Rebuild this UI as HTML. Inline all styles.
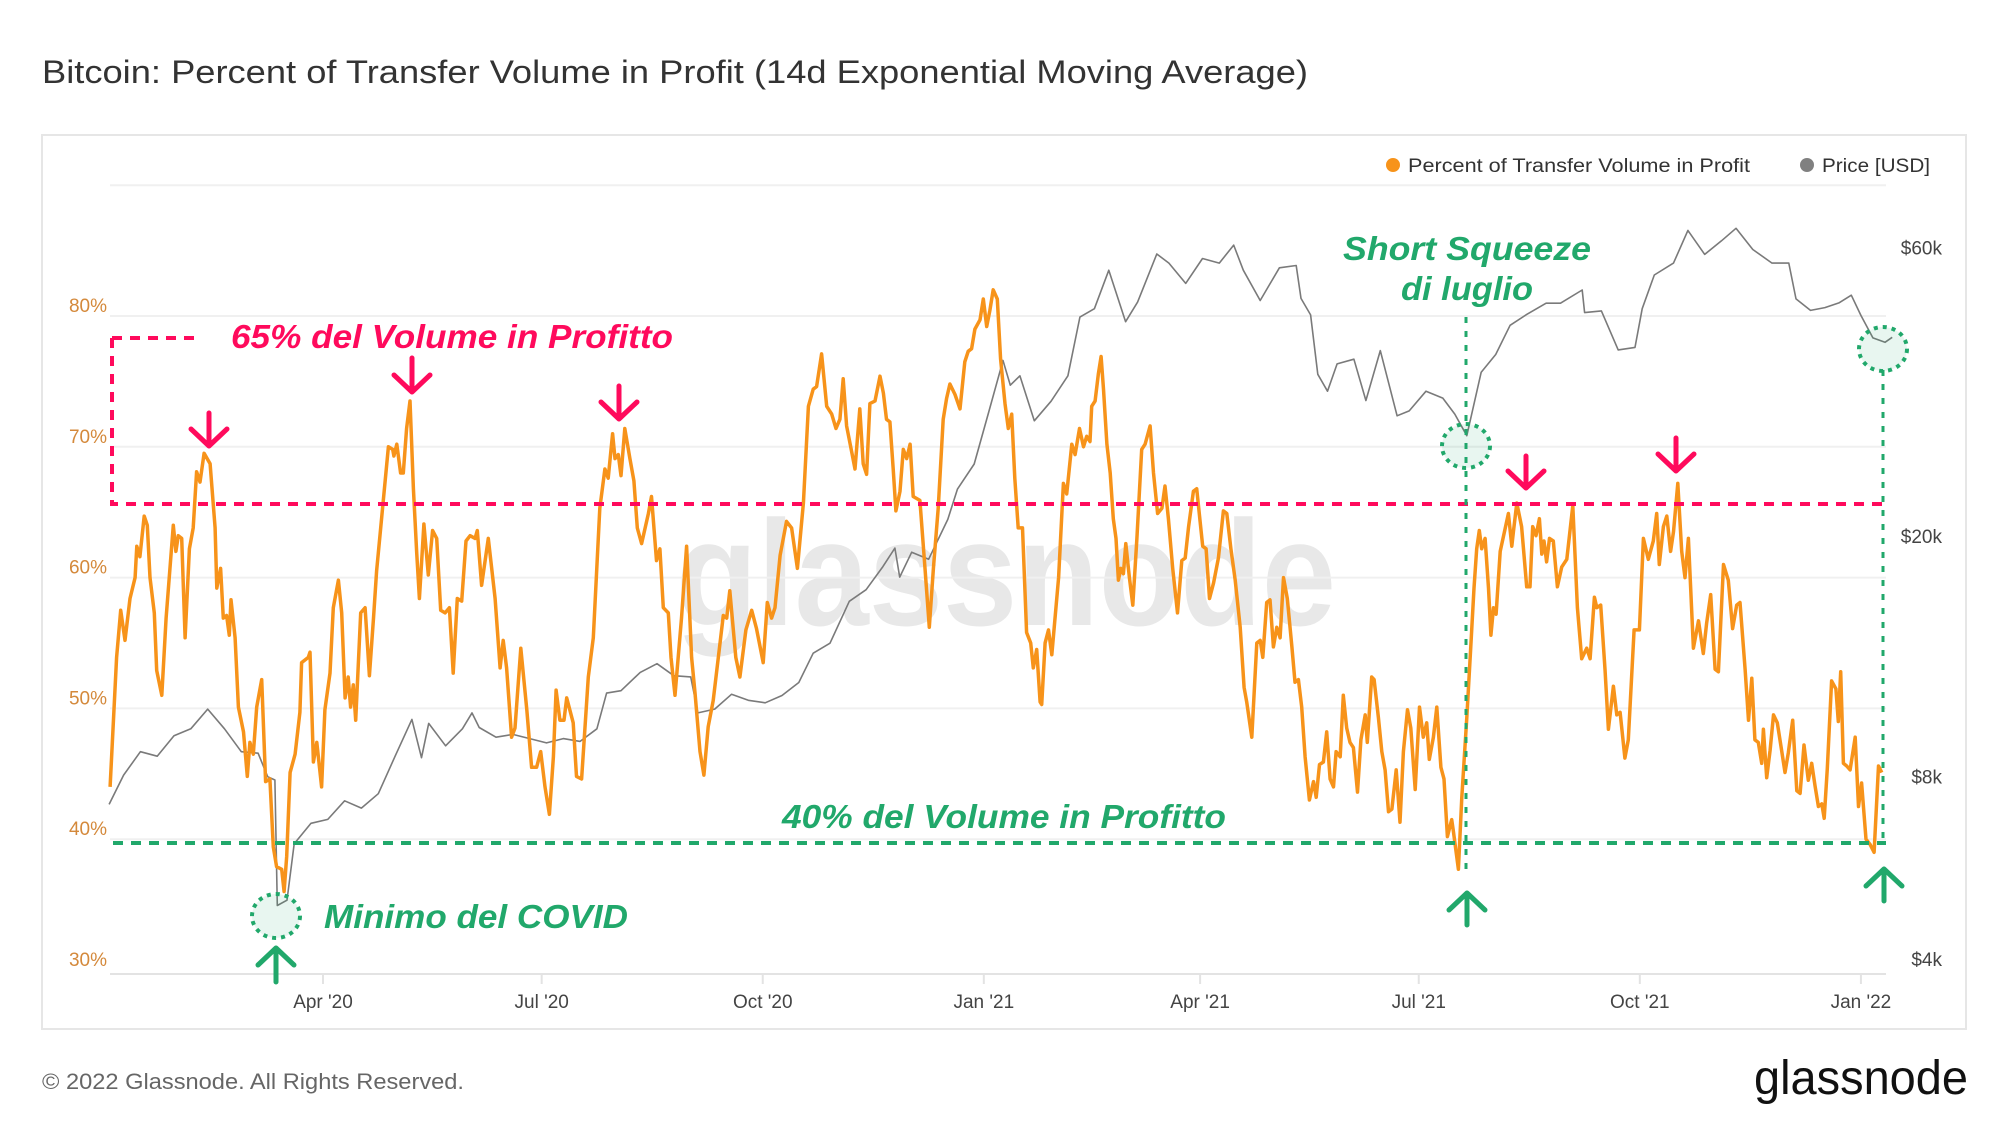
<!DOCTYPE html>
<html><head><meta charset="utf-8"><style>
html,body{margin:0;padding:0;background:#fff;}
svg{display:block;font-family:"Liberation Sans",sans-serif;}
</style></head><body>
<svg id="chart" width="2000" height="1126" viewBox="0 0 2000 1126" xmlns="http://www.w3.org/2000/svg">
<text x="42" y="83" font-size="32" fill="#333" textLength="1266" lengthAdjust="spacingAndGlyphs">Bitcoin: Percent of Transfer Volume in Profit (14d Exponential Moving Average)</text>
<rect x="42" y="135" width="1924" height="894" fill="#fff" stroke="#e6e6e6" stroke-width="2"/>
<text x="676" y="625" font-size="150" font-weight="bold" fill="#e8e8e8" textLength="660" lengthAdjust="spacingAndGlyphs">glassnode</text>
<g id="grid"></g>
<g id="yleft"></g>
<g id="yright"></g>
<g id="xaxis"></g>
<g id="series"></g>
<g id="annot"></g>
<g>
 <g><circle cx="1393" cy="165" r="7" fill="#f7931a"/><text x="1408" y="172" font-size="19" fill="#333" textLength="342" lengthAdjust="spacingAndGlyphs">Percent of Transfer Volume in Profit</text></g>
 <g><circle cx="1807" cy="165" r="7" fill="#808080"/><text x="1822" y="172" font-size="19" fill="#333" textLength="108" lengthAdjust="spacingAndGlyphs">Price [USD]</text></g>
</g>
<text x="42" y="1089" font-size="22" fill="#666" textLength="422" lengthAdjust="spacingAndGlyphs">© 2022 Glassnode. All Rights Reserved.</text>
<text x="1754" y="1094" font-size="48" fill="#111" textLength="214" lengthAdjust="spacingAndGlyphs">glassnode</text>
</svg>
<script>
// ---- data ----
const pctTicks = [80,70,60,50,40,30];
const gridPct = [90,80,70,60,50,40];
const priceTicks = [60000,20000,8000,4000];
const priceTickLabels = ["$60k","$20k","$8k","$4k"];
const xTickDates = ["2020-04-01","2020-07-01","2020-10-01","2021-01-01","2021-04-01","2021-07-01","2021-10-01","2022-01-01"];
const xTickLabels = ["Apr '20","Jul '20","Oct '20","Jan '21","Apr '21","Jul '21","Oct '21","Jan '22"];
// days since 2020-01-01 and percent values
const pctDays = [2.4,5.1,6.8,8.6,10.7,12.8,13.5,14.8,16.6,17.9,19,20.8,21.8,23.9,25.7,28.7,29.8,30.8,32.2,33.6,35.4,37,38.4,39.8,41.5,44,46.1,46.8,48.4,49.5,50.9,52,52.7,54.4,55.8,57.9,59.5,60.6,62,63.4,65.5,67.1,68.9,70.3,71.7,73.8,74.8,75.9,77.3,79.4,81.4,82.1,84.9,85.6,87,88.4,90.4,91.8,93.9,95.3,97.4,98.8,100.2,101.5,102.5,103.6,104.6,106.7,108.5,110.3,112,113.3,116.1,118.2,120,120.5,121.7,123.3,124.4,125.8,127.2,128.6,130,131.1,133,134.8,136.6,138.3,140,141.8,143.6,145.2,146.9,148.7,150.5,152.2,154.3,155.2,157,159.8,162.6,164.7,166,167.4,169.5,170.9,173.3,175.8,177.8,179.9,181.6,183.4,185.2,186.9,188,189.6,191.3,
192.4,195.1,196.5,198.6,201.4,203.5,206.2,208.3,209.7,211.5,212.5,213.9,215,216.6,218.7,220.4,221.8,223.6,226.4,227.7,229.8,231.2,232.6,234.7,235.8,237.5,240.2,242.3,244.4,245.8,247.9,249.5,251.3,253.4,257.6,259,260.3,262.8,264.5,267,269.4,271.4,274.2,275.9,277.7,279.1,281.2,283.9,286,288.4,290.9,293,295,296.4,298.5,300.6,302.7,304.5,306.1,307.5,308.9,310.6,312.4,314.4,315.8,317.2,318.6,320.7,322.8,324.2,325.5,326.9,328.3,329.4,331.1,332.5,333.9,335.3,336.6,339.4,341.5,343.3,345,347,349.1,350.5,351.9,354,356.1,358.1,359.5,360.9,362.3,364.4,365.8,367.2,368.5,369.9,371.6,373,374.8,376.2,377.6,378.9,380.3,382.1,383.8,385.5,386.6,388,389.4,
390.1,391.5,392.9,394.3,397.1,399.1,400.5,402.6,404,405.8,407.5,408.8,410.2,410.9,412.3,413.7,414.8,415.8,417.2,418.6,419.9,421,422,423,424.1,425.1,426.6,428,429.7,431.7,433.1,435.2,436.6,438.3,440.1,441.4,442.8,444.6,446.6,448.4,449.8,451.2,453.2,454.6,456,457.1,458.5,459.9,461.6,463.6,465.7,467.1,468.8,470.6,472.7,474.3,475.4,477.5,479.6,481,482.1,483.7,485.1,486.5,487.9,489.3,490.7,492.3,494.2,495.5,496.9,498.3,499.7,501.5,503.2,504.3,505.7,507.3,508.7,510.1,511.5,512.6,514.3,515.6,517,518.4,519.8,521.5,522.9,524.7,525.6,527.4,528.4,530.2,531.6,533,534.4,535.8,537.6,539.2,540.6,542.3,543.7,545.5,547.3,548.9,550.3,551.4,553.1,554.5,556.2,557.5,558.9,560.7,561.4,563.5,564.9,567,568.6,570,571.1,572.2,573.2,574.6,576,577,578.1,579.2,580.9,
582.9,584.3,585.7,586.4,587.8,589.8,591.9,593.3,594.4,595.8,597.2,598.2,599.1,600.2,601.4,603,604.7,606.5,608.6,611.1,613,614.8,616.9,618.3,620.1,621.1,622.7,624.5,625.9,628,629.4,630.8,632.8,634.2,636.6,638.8,640.5,642.5,644.6,646,647.1,648.8,650.2,651.8,653,654.8,656.4,657.8,659.2,661.3,663.4,665.4,666.8,668.5,670.3,671.7,673.8,675.8,677.6,679.3,680.7,682.8,684.2,685.6,686.9,688.3,689.7,690.4,691.8,693.2,694.6,696.2,698,699.4,700.8,702.6,704.3,705.7,707.3,709.1,710.5,711.9,713.3,714.7,715.7,717,718.8,720.6,721.6,722.6,723.7,725.1,726.5,728.6,730,731.3,733.1,734.8,736.5,738.3,739.7];
const pctValues = [44,53.9,57.5,55.2,58.4,60,62.4,61.6,64.7,64,60,57.3,52.9,51,56.9,64,62,63.2,63,55.4,62.2,63.8,68.1,67.3,69.5,68.7,63.8,59.2,60.7,56.9,57.1,55.6,58.3,55.4,50.1,48.2,44.8,47.4,46.5,50.1,52.2,44.4,44.6,39.4,37.9,37.7,36,38.7,45.1,46.5,49.7,53.5,53.9,54.3,45.9,47.4,44,49.9,52.7,57.7,59.8,57.3,50.8,52.4,50.1,51.8,49.1,57.3,57.7,52.5,56.9,60.5,65.9,70,69.8,69.3,70.2,68,68,71.4,73.5,66.8,61.9,58.4,64.1,60.2,63.6,63,57.5,57.3,57.7,52.7,58.4,58.2,62.8,63.2,63,63.6,59.4,63,58.4,53.1,55.2,53.1,47.8,48.5,54.6,49.9,45.5,45.5,46.7,44,41.9,46.3,51.4,49.1,49.1,
50.8,48.9,44.8,44.6,52.4,55.4,65.3,68.3,67.6,71,69.1,69.4,67.8,71.4,69.1,67.4,63.8,62.6,64.9,66.2,61.3,62.2,57.7,57.3,53.9,51,56.9,62.4,53.9,51.2,46.7,44.9,48.6,50.6,57.1,56.9,59,53.9,52.4,56,57.5,56.1,53.5,58.1,56.9,57.7,61.7,64.3,63.8,60.7,65.7,73.1,74.4,74.6,77.1,73.1,72.5,71.4,72.1,75.2,71.6,70,68.3,72.9,68.7,67.9,73.3,73.5,75.4,74.1,72.1,71.9,68.3,65.1,66.6,69.8,69.1,70.2,66.2,65.9,60.7,56.2,60.7,65.3,72.1,73.7,74.8,74,72.9,76.5,77.3,77.5,79,79.7,81.3,79.2,80.4,82,81.3,76.7,73.3,71.4,72.5,67.6,63.8,63.8,55.8,55,53.1,54.5,50.5,
50.3,55,56,54.1,60,67.2,66.4,70.2,69.4,71.4,70,70.8,70.4,73.1,73.5,75.6,76.9,74.4,70.2,68,64.5,63,59.8,60.7,60.3,62.6,60,57.9,63,69.8,70.2,71.6,68,64.9,65.3,67,64.5,60.7,57.3,61.3,61.5,63.9,66.6,66.8,64.3,62.4,62.2,58.4,59.6,61.5,65.1,64.9,62.2,59.8,56.2,51.6,50.5,47.8,55,55.2,53.9,58.1,58.3,54.7,56.2,55.4,60,58.4,54.7,52,52.2,50.1,46.3,43,44.4,43.2,45.7,45.9,48.2,44.6,44,46.7,46.3,51,48.5,47.4,47,43.6,47.6,49.5,47.4,52.4,52.2,49.3,46.7,45.3,42.1,42.3,45.3,41.3,46.7,49.9,48.5,43.8,50.1,47.8,48.9,46.1,47.8,50.1,45.5,44.6,40.2,41.5,40.6,37.7,43.2,49.3,54.6,59.2,62.2,63.6,62.2,63,59.2,55.6,57.7,57.2,62,
63.7,64.9,62.4,63.5,65.7,63.9,59.3,59.3,63.9,63.2,64.5,61.8,62.8,61.2,63,62.8,59.3,60.8,61.4,65.5,57.7,53.8,54.6,53.8,58.5,57.7,57.9,53,48.4,51.7,49.5,49.7,46.2,47.6,56,56,63,61.4,62.8,64.9,61,63.9,64.7,62,63.5,67.2,62,60,63,54.6,56.7,54.2,56.5,58.7,53,52.8,61,59.8,56.1,57.9,58.1,53,49.1,52.3,47.6,47.4,45.8,48.4,44.7,46.8,49.5,48.9,46.8,45.1,46.6,49.1,43.7,43.5,47.2,44.5,45.8,44.1,42.5,42.7,41.6,45.4,52.1,51.5,49,52.8,45.8,45.6,45.3,47.8,42.5,44.3,40,39.6,39,45.6,45.1];
const priceDates = ["2020-01-02","2020-01-08","2020-01-15","2020-01-22","2020-01-29","2020-02-05","2020-02-12","2020-02-19","2020-02-26","2020-03-04","2020-03-08","2020-03-11","2020-03-12","2020-03-16","2020-03-19","2020-03-26","2020-04-02","2020-04-09","2020-04-16","2020-04-23","2020-04-30","2020-05-07","2020-05-11","2020-05-14","2020-05-21","2020-05-28","2020-06-01","2020-06-04","2020-06-11","2020-06-18","2020-06-25","2020-07-02","2020-07-09","2020-07-16","2020-07-23","2020-07-27","2020-08-02","2020-08-10","2020-08-17","2020-08-24","2020-08-31","2020-09-03","2020-09-10","2020-09-17","2020-09-24","2020-10-01","2020-10-08","2020-10-15","2020-10-21","2020-10-28","2020-11-05","2020-11-12","2020-11-19","2020-11-24","2020-11-26","2020-12-01","2020-12-08","2020-12-16","2020-12-20","2020-12-27","2021-01-02","2021-01-08","2021-01-11","2021-01-15","2021-01-21","2021-01-28","2021-02-04","2021-02-09","2021-02-15","2021-02-21","2021-02-28","2021-03-05","2021-03-13","2021-03-18","2021-03-25","2021-04-01","2021-04-08","2021-04-14","2021-04-18","2021-04-25","2021-05-03","2021-05-10","2021-05-12","2021-05-16","2021-05-19","2021-05-23","2021-05-27","2021-06-03","2021-06-08","2021-06-14","2021-06-21","2021-06-26","2021-07-03","2021-07-10","2021-07-15","2021-07-20","2021-07-26","2021-08-01","2021-08-07","2021-08-14","2021-08-22","2021-08-28","2021-09-06","2021-09-07","2021-09-14","2021-09-21","2021-09-28","2021-10-01","2021-10-06","2021-10-14","2021-10-20","2021-10-27","2021-11-03","2021-11-09","2021-11-16","2021-11-24","2021-12-01","2021-12-04","2021-12-10","2021-12-16","2021-12-22","2021-12-27","2021-12-31","2022-01-05","2022-01-10","2022-01-13"];
const priceValues = [7200,8050,8800,8650,9350,9600,10350,9600,8800,8750,8000,7900,4900,5000,6200,6700,6800,7300,7100,7500,8650,9950,8600,9800,9000,9600,10200,9650,9300,9400,9250,9100,9250,9150,9600,11000,11100,11900,12300,11750,11700,10200,10350,10950,10700,10600,10900,11450,12800,13300,15600,16300,17800,19100,17100,18800,18300,21300,23900,26300,32000,39000,35500,36800,31000,33400,36800,46000,47500,55000,45200,48700,58500,56500,52300,57500,56500,60500,55000,49000,55500,56000,49400,46400,37000,34700,38500,39200,33500,40500,31600,32200,34700,33800,31800,29300,37300,39900,44600,46500,48500,48500,51000,46800,47100,40600,41000,47500,54000,56500,64000,58400,61500,64500,59500,56500,56500,49300,47200,47700,48600,50000,46300,42500,41800,42600];

// ---- scales ----
const DAY0 = Date.UTC(2020,0,1);
function dayOf(s){const p=s.split('-');return (Date.UTC(+p[0],+p[1]-1,+p[2])-DAY0)/86400000;}
function xScale(d){return 323 + (d-91)*2.403;}
function yPct(v){return 316 + (80-v)*13.08;}
function yPrice(p){return 536 - (Math.log10(p)-4.301)*605;}
const NS="http://www.w3.org/2000/svg";
function mk(tag,attrs,parent){const e=document.createElementNS(NS,tag);for(const k in attrs)e.setAttribute(k,attrs[k]);parent.appendChild(e);return e;}

// grid
const grid=document.getElementById('grid');
gridPct.forEach(v=>{
  const l=mk('line',{x1:110,x2:1886,y1:yPct(v),y2:yPct(v),stroke:'#f0f0f0','stroke-width':2},grid);
  
  
});
const base=mk('line',{x1:110,x2:1886,y1:yPct(30)+4,y2:yPct(30)+4,stroke:'#e3e3e3','stroke-width':2},grid);



// left axis
const yl=document.getElementById('yleft');
pctTicks.forEach(v=>{
  const t=mk('text',{x:107,y:yPct(v)-4,'text-anchor':'end','font-size':19,fill:'#d4893b'},yl);
  t.textContent=v+'%';
  
  
});
// right axis
const yr=document.getElementById('yright');
priceTicks.forEach((p,i)=>{
  const t=mk('text',{x:1942,y:yPrice(p)+7,'text-anchor':'end','font-size':19,fill:'#444'},yr);
  t.textContent=priceTickLabels[i];
  
  
});
// x axis
const xa=document.getElementById('xaxis');
xTickDates.forEach((s,i)=>{
  const x=xScale(dayOf(s));
  const tk=mk('line',{x1:x,x2:x,y1:yPct(30)+4,y2:yPct(30)+14,stroke:'#e3e3e3','stroke-width':2},xa);
  
  
  const t=mk('text',{x:x,y:1008,'text-anchor':'middle','font-size':19,fill:'#444'},xa);
  t.textContent=xTickLabels[i];
  
  
});

// series
const sg=document.getElementById('series');
let dp='';
priceDates.forEach((s,i)=>{dp+=(i?'L':'M')+xScale(dayOf(s)+1).toFixed(1)+' '+yPrice(priceValues[i]).toFixed(1);});
const pl=mk('path',{d:dp,fill:'none',stroke:'#7a7a7a','stroke-width':1.6,'stroke-linejoin':'round'},sg);


let dpct='';
pctDays.forEach((d,i)=>{dpct+=(i?'L':'M')+xScale(d).toFixed(1)+' '+yPct(pctValues[i]).toFixed(1);});
const ol=mk('path',{d:dpct,fill:'none',stroke:'#f7931a','stroke-width':3.5,'stroke-linejoin':'round'},sg);


</script>
<script>
// annotations (static overlay)
(function(){
const NS="http://www.w3.org/2000/svg";
const a=document.getElementById('annot');
a.innerHTML = `
<path d="M112 338 L200 338 M112 338 L112 504 L1886 504" fill="none" stroke="#ff0a5c" stroke-width="4" stroke-dasharray="10 8"/>
<text x="231" y="348" font-size="33" font-weight="bold" font-style="italic" fill="#ff0a5c" textLength="442" lengthAdjust="spacingAndGlyphs">65% del Volume in Profitto</text>
<g fill="none" stroke="#ff0a5c" stroke-width="5" stroke-linecap="round" stroke-linejoin="round">
<path d="M209 413 L209 446 M191 429 L209 446 L227 429"/>
<path d="M412 358 L412 392 M394 375 L412 392 L430 375"/>
<path d="M619 386 L619 419 M601 402 L619 419 L637 402"/>
<path d="M1526 456 L1526 488 M1508 471 L1526 488 L1544 471"/>
<path d="M1676 438 L1676 471 M1658 454 L1676 471 L1694 454"/>
</g>
<line x1="113" y1="843" x2="1886" y2="843" stroke="#21a86b" stroke-width="4" stroke-dasharray="10 8"/>
<text x="782" y="828" font-size="33" font-weight="bold" font-style="italic" fill="#21a86b" textLength="444" lengthAdjust="spacingAndGlyphs">40% del Volume in Profitto</text>
<text x="324" y="928" font-size="33" font-weight="bold" font-style="italic" fill="#21a86b" textLength="304" lengthAdjust="spacingAndGlyphs">Minimo del COVID</text>
<text x="1467" y="260" text-anchor="middle" font-size="33" font-weight="bold" font-style="italic" fill="#21a86b" textLength="248" lengthAdjust="spacingAndGlyphs">Short Squeeze</text>
<text x="1467" y="300" text-anchor="middle" font-size="33" font-weight="bold" font-style="italic" fill="#21a86b" textLength="132" lengthAdjust="spacingAndGlyphs">di luglio</text>
<line x1="1466" y1="317" x2="1466" y2="870" stroke="#21a86b" stroke-width="3" stroke-dasharray="6 8"/>
<line x1="1883" y1="370" x2="1883" y2="845" stroke="#21a86b" stroke-width="3" stroke-dasharray="6 8"/>
<g fill="rgba(33,168,107,0.1)" stroke="#21a86b" stroke-width="4" stroke-dasharray="4 5">
<ellipse cx="276" cy="916" rx="24" ry="22"/>
<ellipse cx="1466" cy="446" rx="24" ry="22"/>
<ellipse cx="1883" cy="349" rx="24" ry="22"/>
</g>
<g fill="none" stroke="#21a86b" stroke-width="5" stroke-linecap="round" stroke-linejoin="round">
<path d="M276 982 L276 948 M258 965 L276 948 L294 965"/>
<path d="M1467 925 L1467 893 M1449 910 L1467 893 L1485 910"/>
<path d="M1884 901 L1884 869 M1866 886 L1884 869 L1902 886"/>
</g>`;
})();
</script>
</body></html>
